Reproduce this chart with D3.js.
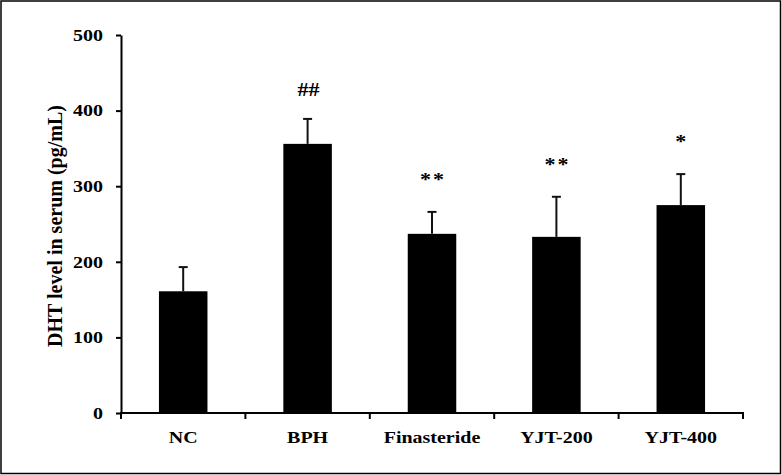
<!DOCTYPE html>
<html>
<head>
<meta charset="utf-8">
<script src="https://cdn.jsdelivr.net/npm/d3@7"></script>
<style>
  body { margin: 0; background: #fff; }
  svg text { font-family: "Liberation Serif", "Times New Roman", serif; font-weight: bold; fill: #000; }
</style>
</head>
<body>
<div id="chart"></div>
<script>
  const groups = ["NC", "BPH", "Finasteride", "YJT-200", "YJT-400"];
  const means = [161, 356, 237, 233, 275];
  const errors = [32, 33, 29, 53, 41];
  const marks = ["", "##", "**", "**", "*"];
  const yTicks = [0, 100, 200, 300, 400, 500];

  const width = 782, height = 475;
  const svg = d3.select("#chart").append("svg")
    .attr("width", width)
    .attr("height", height);

  // outer frame
  svg.append("rect")
    .attr("x", 1).attr("y", 1)
    .attr("width", width - 2.5).attr("height", height - 2.5)
    .attr("fill", "none")
    .attr("stroke", "#000")
    .attr("stroke-width", 1.5);

  const y = d3.scaleLinear().domain([0, 500]).range([413, 35]);
  const slot = d3.scaleBand().domain(groups).range([121, 743]).padding(0);
  const barW = slot.bandwidth() * 0.39;
  const cx = d => slot(d) + slot.bandwidth() / 2;

  // bars
  svg.selectAll("rect.bar")
    .data(groups)
    .join("rect")
    .attr("class", "bar")
    .attr("x", d => cx(d) - barW / 2)
    .attr("y", (d, i) => y(means[i]))
    .attr("width", barW)
    .attr("height", (d, i) => y(0) - y(means[i]))
    .attr("fill", "#000");

  // error bars (upper only)
  const err = svg.append("g").attr("stroke", "#111").attr("stroke-width", 2);
  groups.forEach((g, i) => {
    err.append("line")
      .attr("x1", cx(g)).attr("x2", cx(g))
      .attr("y1", y(means[i])).attr("y2", y(means[i] + errors[i]));
    err.append("line")
      .attr("x1", cx(g) - 4.5).attr("x2", cx(g) + 4.5)
      .attr("y1", y(means[i] + errors[i])).attr("y2", y(means[i] + errors[i]));
  });

  // significance marks
  svg.selectAll("text.mark")
    .data(groups)
    .join("text")
    .attr("class", "mark")
    .attr("text-anchor", "middle")
    .attr("font-size", 22)
    .attr("letter-spacing", (d, i) => marks[i].startsWith("*") ? 2 : 0)
    .attr("transform", (d, i) => {
      const off = marks[i].startsWith("#") ? 23 : 26;
      return `translate(${cx(d) + 1},${y(means[i] + errors[i]) - off}) scale(1,0.82)`;
    })
    .text((d, i) => marks[i]);

  // y axis
  const yAxis = svg.append("g")
    .attr("transform", "translate(121,0)")
    .call(d3.axisLeft(y).tickValues(yTicks).tickSize(5).tickPadding(13).tickSizeOuter(0));
  yAxis.select(".domain").attr("stroke-width", 2);
  yAxis.selectAll(".tick line").attr("stroke-width", 2);
  yAxis.selectAll(".tick text")
    .attr("font-size", 20)
    .attr("font-family", null)
    .attr("transform", "scale(1,0.82)");

  // x axis: line plus ticks between categories
  const xAxis = svg.append("g").attr("stroke", "#000").attr("stroke-width", 2);
  xAxis.append("line")
    .attr("x1", 120).attr("x2", 744)
    .attr("y1", y(0)).attr("y2", y(0));
  const bounds = groups.map(g => slot(g)).concat([slot.range()[1]]);
  xAxis.selectAll("line.tick")
    .data(bounds)
    .join("line")
    .attr("class", "tick")
    .attr("x1", d => d).attr("x2", d => d)
    .attr("y1", y(0)).attr("y2", y(0) + 6);

  svg.selectAll("text.xlab")
    .data(groups)
    .join("text")
    .attr("class", "xlab")
    .attr("text-anchor", "middle")
    .attr("font-size", 20)
    .attr("transform", d => `translate(${cx(d)},443) scale(1,0.82)`)
    .text(d => d);

  // y label
  svg.append("text")
    .attr("text-anchor", "middle")
    .attr("font-size", 20)
    .attr("transform", "translate(62,226) rotate(-90)")
    .text("DHT level in serum (pg/mL)");
</script>
</body>
</html>
